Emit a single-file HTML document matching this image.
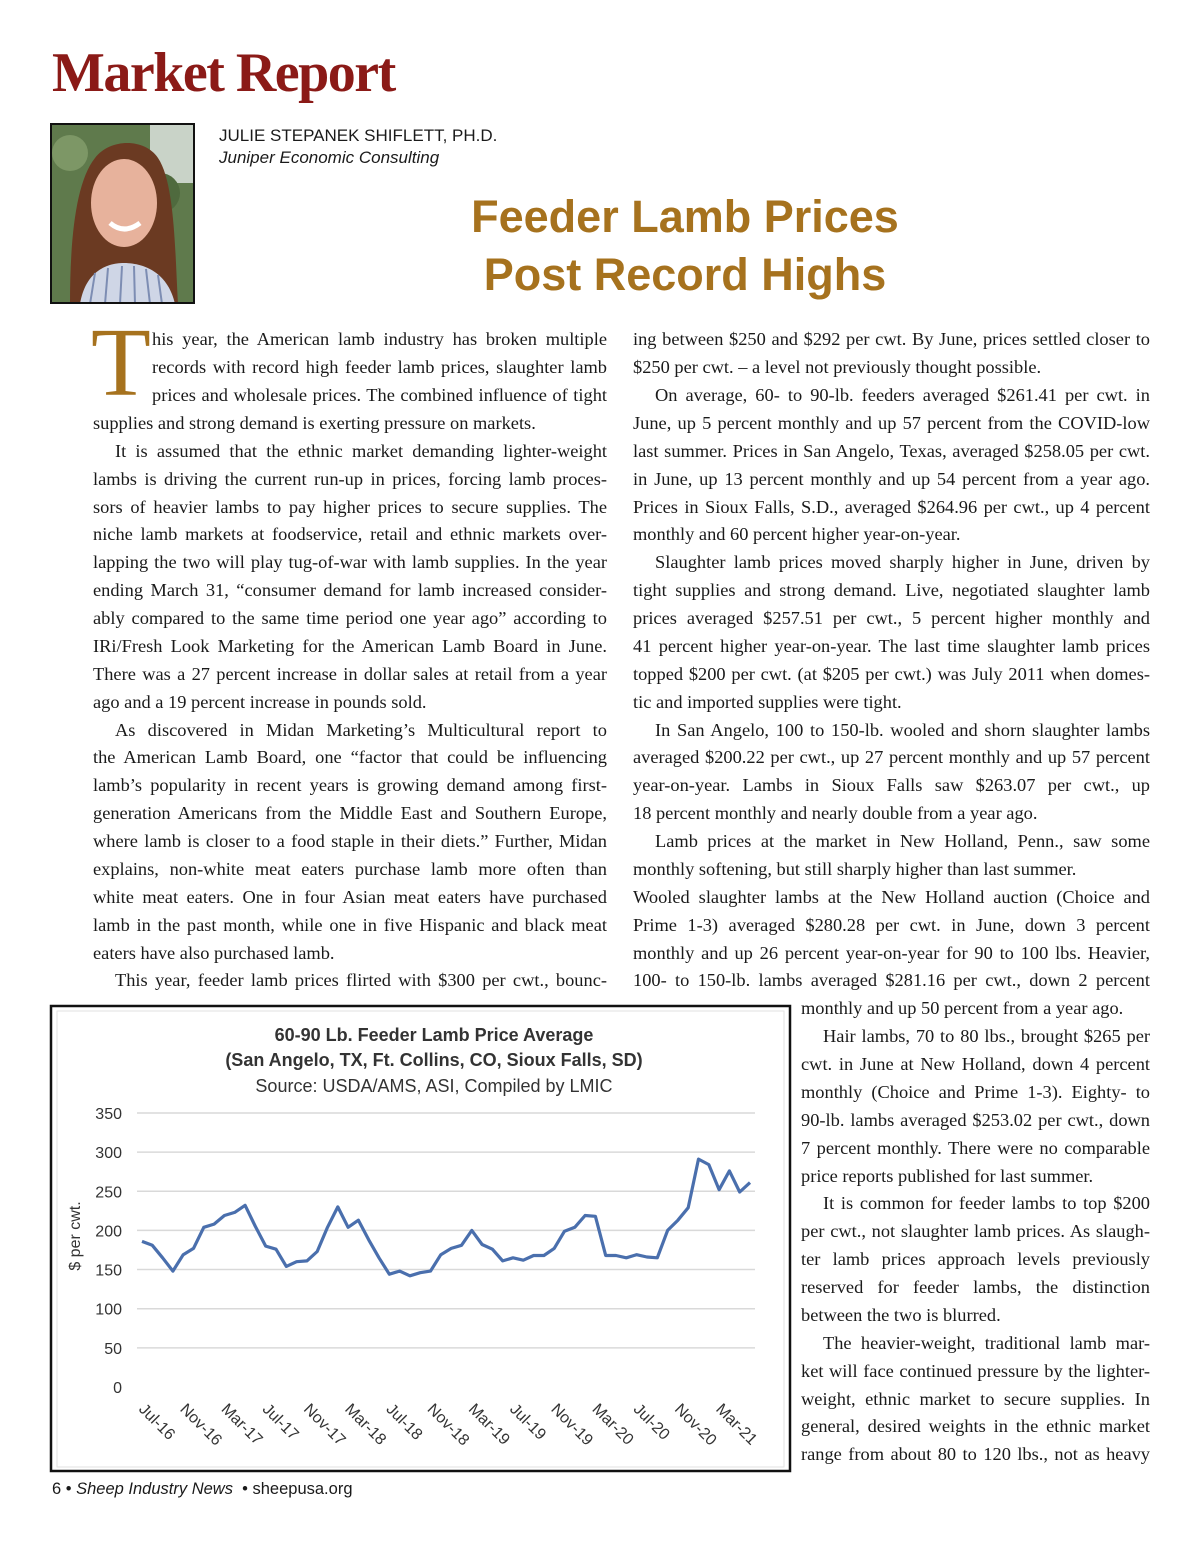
<!DOCTYPE html>
<html><head><meta charset="utf-8">
<style>
html,body{margin:0;padding:0;background:#fff;}
body{width:1200px;height:1558px;position:relative;overflow:hidden;font-family:"Liberation Serif",serif;color:#1a1a1a;}
.a{position:absolute;}
.l{position:absolute;height:22px;line-height:22px;font-size:18.4px;white-space:nowrap;text-align:justify;text-align-last:justify;}
.l.e{text-align-last:left;}
.c1{left:93px;width:514px;}
.c1i{left:115px;width:492px;}
.c2{left:633px;width:517px;}
.c2i{left:655px;width:495px;}
.c3{left:801px;width:349px;}
.c3i{left:823px;width:327px;}
</style></head><body>
<div class="a" style="left:52px;top:41px;font-size:56px;font-weight:bold;color:#8b1a17;letter-spacing:-1.5px;font-family:'Liberation Serif',serif;">Market Report</div>
<svg class="a" style="left:50px;top:123px" width="145" height="181" viewBox="0 0 145 181">
<rect x="0" y="0" width="145" height="181" fill="#5f7a4c"/>
<rect x="100" y="0" width="45" height="60" fill="#c9d3c8"/>
<circle cx="20" cy="30" r="18" fill="#7d9766"/><circle cx="110" cy="70" r="20" fill="#4f6a3e"/>
<path d="M20 181 C20 120 25 60 45 35 C60 15 95 15 108 35 C125 60 125 130 128 181 Z" fill="#6b3a22"/>
<ellipse cx="74" cy="80" rx="33" ry="44" fill="#e7b29c"/>
<path d="M30 181 C35 150 55 140 74 140 C95 140 118 150 125 181 Z" fill="#cfd6e6"/>
<path d="M40 181 L45 150 M55 181 L58 145 M70 181 L72 143 M85 181 L84 143 M100 181 L96 146 M112 181 L108 152" stroke="#7d8db3" stroke-width="2"/>
<path d="M60 100 Q74 112 90 100" stroke="#fff" stroke-width="5" fill="none"/>
<rect x="1" y="1" width="143" height="179" fill="none" stroke="#111" stroke-width="2"/>
</svg>
<div class="a" style="left:219px;top:126px;font-family:'Liberation Sans',sans-serif;font-size:17px;">JULIE STEPANEK SHIFLETT, PH.D.</div>
<div class="a" style="left:219px;top:148px;font-family:'Liberation Sans',sans-serif;font-size:17px;font-style:italic;">Juniper Economic Consulting</div>
<div class="a" style="left:440px;width:490px;top:188px;text-align:center;font-family:'Liberation Sans',sans-serif;font-weight:bold;font-size:45px;line-height:58px;color:#a6721e;">Feeder Lamb Prices<br>Post Record Highs</div>
<div class="a" style="left:91px;top:318px;font-size:98px;line-height:90px;color:#a6721e;">T</div>

<div>
<div class="l" style="left:152px;width:455px;top:328px">his year, the American lamb industry has broken multiple</div>
<div class="l" style="left:152px;width:455px;top:356px">records with record high feeder lamb prices, slaughter lamb</div>
<div class="l" style="left:152px;width:455px;top:384px">prices and wholesale prices. The combined influence of tight</div>
<div class="l c1 e" style="top:412px">supplies and strong demand is exerting pressure on markets.</div>
<div class="l c1i" style="top:440px">It is assumed that the ethnic market demanding lighter-weight</div>
<div class="l c1" style="top:468px">lambs is driving the current run-up in prices, forcing lamb proces-</div>
<div class="l c1" style="top:496px">sors of heavier lambs to pay higher prices to secure supplies. The</div>
<div class="l c1" style="top:523px">niche lamb markets at foodservice, retail and ethnic markets over-</div>
<div class="l c1" style="top:551px">lapping the two will play tug-of-war with lamb supplies. In the year</div>
<div class="l c1" style="top:579px">ending March 31, “consumer demand for lamb increased consider-</div>
<div class="l c1" style="top:607px">ably compared to the same time period one year ago” according to</div>
<div class="l c1" style="top:635px">IRi/Fresh Look Marketing for the American Lamb Board in June.</div>
<div class="l c1" style="top:663px">There was a 27 percent increase in dollar sales at retail from a year</div>
<div class="l c1 e" style="top:691px">ago and a 19 percent increase in pounds sold.</div>
<div class="l c1i" style="top:719px">As discovered in Midan Marketing’s Multicultural report to</div>
<div class="l c1" style="top:746px">the American Lamb Board, one “factor that could be influencing</div>
<div class="l c1" style="top:774px">lamb’s popularity in recent years is growing demand among first-</div>
<div class="l c1" style="top:802px">generation Americans from the Middle East and Southern Europe,</div>
<div class="l c1" style="top:830px">where lamb is closer to a food staple in their diets.” Further, Midan</div>
<div class="l c1" style="top:858px">explains, non-white meat eaters purchase lamb more often than</div>
<div class="l c1" style="top:886px">white meat eaters. One in four Asian meat eaters have purchased</div>
<div class="l c1" style="top:914px">lamb in the past month, while one in five Hispanic and black meat</div>
<div class="l c1 e" style="top:942px">eaters have also purchased lamb.</div>
<div class="l c1i" style="top:969px">This year, feeder lamb prices flirted with $300 per cwt., bounc-</div>
</div>

<div>
<div class="l c2" style="top:328px">ing between $250 and $292 per cwt. By June, prices settled closer to</div>
<div class="l c2 e" style="top:356px">$250 per cwt. – a level not previously thought possible.</div>
<div class="l c2i" style="top:384px">On average, 60- to 90-lb. feeders averaged $261.41 per cwt. in</div>
<div class="l c2" style="top:412px">June, up 5 percent monthly and up 57 percent from the COVID-low</div>
<div class="l c2" style="top:440px">last summer. Prices in San Angelo, Texas, averaged $258.05 per cwt.</div>
<div class="l c2" style="top:468px">in June, up 13 percent monthly and up 54 percent from a year ago.</div>
<div class="l c2" style="top:496px">Prices in Sioux Falls, S.D., averaged $264.96 per cwt., up 4 percent</div>
<div class="l c2 e" style="top:523px">monthly and 60 percent higher year-on-year.</div>
<div class="l c2i" style="top:551px">Slaughter lamb prices moved sharply higher in June, driven by</div>
<div class="l c2" style="top:579px">tight supplies and strong demand. Live, negotiated slaughter lamb</div>
<div class="l c2" style="top:607px">prices averaged $257.51 per cwt., 5 percent higher monthly and</div>
<div class="l c2" style="top:635px">41 percent higher year-on-year. The last time slaughter lamb prices</div>
<div class="l c2" style="top:663px">topped $200 per cwt. (at $205 per cwt.) was July 2011 when domes-</div>
<div class="l c2 e" style="top:691px">tic and imported supplies were tight.</div>
<div class="l c2i" style="top:719px">In San Angelo, 100 to 150-lb. wooled and shorn slaughter lambs</div>
<div class="l c2" style="top:746px">averaged $200.22 per cwt., up 27 percent monthly and up 57 percent</div>
<div class="l c2" style="top:774px">year-on-year. Lambs in Sioux Falls saw $263.07 per cwt., up</div>
<div class="l c2 e" style="top:802px">18 percent monthly and nearly double from a year ago.</div>
<div class="l c2i" style="top:830px">Lamb prices at the market in New Holland, Penn., saw some</div>
<div class="l c2 e" style="top:858px">monthly softening, but still sharply higher than last summer.</div>
<div class="l c2" style="top:886px">Wooled slaughter lambs at the New Holland auction (Choice and</div>
<div class="l c2" style="top:914px">Prime 1-3) averaged $280.28 per cwt. in June, down 3 percent</div>
<div class="l c2" style="top:942px">monthly and up 26 percent year-on-year for 90 to 100 lbs. Heavier,</div>
<div class="l c2" style="top:969px">100- to 150-lb. lambs averaged $281.16 per cwt., down 2 percent</div>
<div class="l c3 e" style="top:997px">monthly and up 50 percent from a year ago.</div>
<div class="l c3i" style="top:1025px">Hair lambs, 70 to 80 lbs., brought $265 per</div>
<div class="l c3" style="top:1053px">cwt. in June at New Holland, down 4 percent</div>
<div class="l c3" style="top:1081px">monthly (Choice and Prime 1-3). Eighty- to</div>
<div class="l c3" style="top:1109px">90-lb. lambs averaged $253.02 per cwt., down</div>
<div class="l c3" style="top:1137px">7 percent monthly. There were no comparable</div>
<div class="l c3 e" style="top:1165px">price reports published for last summer.</div>
<div class="l c3i" style="top:1192px">It is common for feeder lambs to top $200</div>
<div class="l c3" style="top:1220px">per cwt., not slaughter lamb prices. As slaugh-</div>
<div class="l c3" style="top:1248px">ter lamb prices approach levels previously</div>
<div class="l c3" style="top:1276px">reserved for feeder lambs, the distinction</div>
<div class="l c3 e" style="top:1304px">between the two is blurred.</div>
<div class="l c3i" style="top:1332px">The heavier-weight, traditional lamb mar-</div>
<div class="l c3" style="top:1360px">ket will face continued pressure by the lighter-</div>
<div class="l c3" style="top:1388px">weight, ethnic market to secure supplies. In</div>
<div class="l c3" style="top:1415px">general, desired weights in the ethnic market</div>
<div class="l c3" style="top:1443px">range from about 80 to 120 lbs., not as heavy</div>
</div>

<svg class="a" id="chart" style="left:0;top:0" width="1200" height="1558" font-family="'Liberation Sans','DejaVu Sans',sans-serif">
<rect x="51" y="1006" width="739" height="465" fill="#fff" stroke="#111" stroke-width="2.5"/>
<rect x="57" y="1011" width="727" height="456" fill="none" stroke="#e2e2e2" stroke-width="1"/>
<text x="434" y="1041" text-anchor="middle" font-size="18" font-weight="bold" fill="#333">60-90 Lb. Feeder Lamb Price Average</text>
<text x="434" y="1066" text-anchor="middle" font-size="18" font-weight="bold" fill="#333">(San Angelo, TX, Ft. Collins, CO, Sioux Falls, SD)</text>
<text x="434" y="1092" text-anchor="middle" font-size="18" fill="#333">Source: USDA/AMS, ASI, Compiled by LMIC</text>
<text transform="translate(80,1236) rotate(-90)" text-anchor="middle" font-size="16" fill="#333">$ per cwt.</text>
<g id="grid"></g><g id="yt"></g><g id="xt"></g><g id="ln"></g>
</svg>

<div class="a" style="left:52px;top:1480px;font-family:'Liberation Sans',sans-serif;font-size:16.5px;">6 • <i>Sheep Industry News</i> &nbsp;• sheepusa.org</div>

<script>
const yTicks = [0, 50, 100, 150, 200, 250, 300, 350];
const xLabels = ["Jul-16","Nov-16","Mar-17","Jul-17","Nov-17","Mar-18","Jul-18","Nov-18","Mar-19","Jul-19","Nov-19","Mar-20","Jul-20","Nov-20","Mar-21"];
const prices = [186,181,165,148,169,177,204,208,219,223,232,205,180,176,154,160,161,173,204,230,204,213,188,165,144,148,142,146,148,169,177,181,200,182,176,161,165,162,168,168,177,199,204,219,218,168,168,165,169,166,165,200,213,229,291,284,252,276,249,261];

const NS = "http://www.w3.org/2000/svg";
const X0 = 142, X1 = 750, Y0 = 1387, PPU = 0.783;
function yS(v){ return Y0 - v * PPU; }
function xS(i){ return X0 + i * (X1 - X0) / (prices.length - 1); }
function mk(tag, attrs, parent){ const e = document.createElementNS(NS, tag); for (const k in attrs) e.setAttribute(k, attrs[k]); parent.appendChild(e); return e; }

const grid = document.getElementById('grid'), yt = document.getElementById('yt'), xt = document.getElementById('xt'), ln = document.getElementById('ln');
yTicks.forEach(v => {
  if (v > 0) {
    const g = mk('line', {x1:137, x2:755, y1:yS(v), y2:yS(v), stroke:'#d9d9d9', 'stroke-width':1.5}, grid);
    
    
  }
  const t = mk('text', {x:122, y:yS(v)+6, 'text-anchor':'end', 'font-size':16, fill:'#333'}, yt);
  t.textContent = v;
  
  
});
xLabels.forEach((lab, k) => {
  const x = xS(k * 4) - 4, y = 1410;
  const t = mk('text', {x:x, y:y, 'font-size':16, fill:'#333', transform:'rotate(45 '+x+' '+y+')'}, xt);
  t.textContent = lab;
  
  
});
const pts = prices.map((v, i) => xS(i).toFixed(1) + ',' + yS(v).toFixed(1)).join(' ');
const pl = mk('polyline', {points:pts, fill:'none', stroke:'#4a6fad', 'stroke-width':3.2, 'stroke-linejoin':'round'}, ln);


</script>
</body></html>
